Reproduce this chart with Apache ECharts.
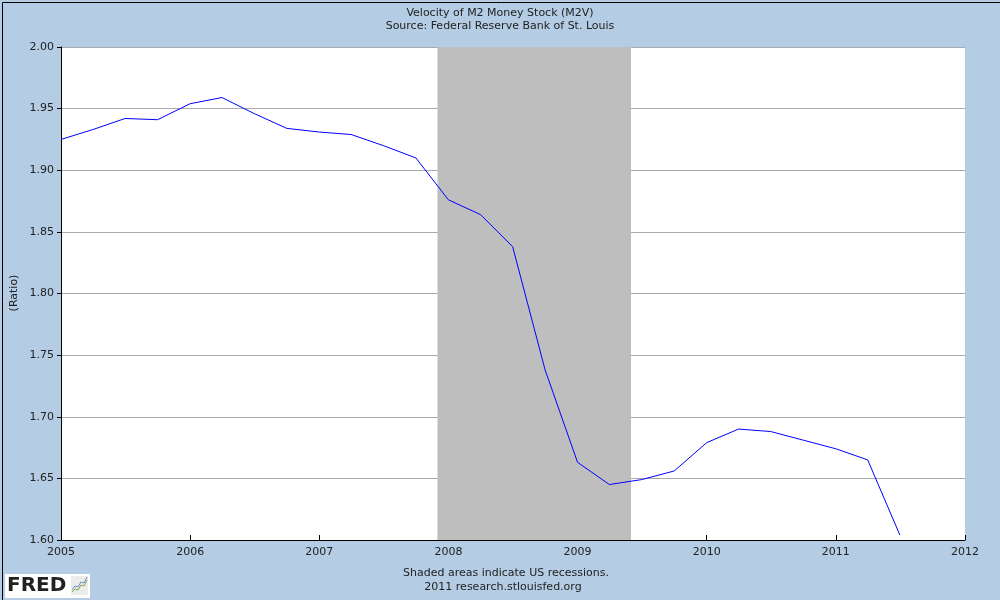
<!DOCTYPE html>
<html>
<head>
<meta charset="utf-8">
<script src="https://cdn.jsdelivr.net/npm/echarts@6/dist/echarts.min.js"></script>
<style>html,body{margin:0;padding:0;background:#B4CDE4;}#c{width:1000px;height:600px;}</style>
</head>
<body>
<div id="c"></div>
<script>
// Quarterly observation dates
const dates = [
  '2005-01-01','2005-04-01','2005-07-01','2005-10-01',
  '2006-01-01','2006-04-01','2006-07-01','2006-10-01',
  '2007-01-01','2007-04-01','2007-07-01','2007-10-01',
  '2008-01-01','2008-04-01','2008-07-01','2008-10-01',
  '2009-01-01','2009-04-01','2009-07-01','2009-10-01',
  '2010-01-01','2010-04-01','2010-07-01','2010-10-01',
  '2011-01-01','2011-04-01','2011-07-01'
];
// M2 velocity (ratio)
const m2v = [
  1.925, 1.933, 1.942, 1.941,
  1.954, 1.959, 1.946, 1.934,
  1.931, 1.929, 1.920, 1.910,
  1.876, 1.864, 1.838, 1.738,
  1.663, 1.645, 1.649, 1.656,
  1.679, 1.690, 1.688, 1.681,
  1.674, 1.665, 1.604
];
// Recession period
const recessionStart = '2007-12-01';
const recessionEnd = '2009-06-01';
// Axis ticks
const yearTicks = [2005, 2006, 2007, 2008, 2009, 2010, 2011, 2012];
const yTicks = [1.60, 1.65, 1.70, 1.75, 1.80, 1.85, 1.90, 1.95, 2.00];

const titleText = 'Velocity of M2 Money Stock (M2V)';
const subText = 'Source: Federal Reserve Bank of St. Louis';
const yName = '(Ratio)';
const footer1 = 'Shaded areas indicate US recessions.';
const footer2 = '2011 research.stlouisfed.org';

function decYear(s) {
  const d = new Date(s + 'T00:00:00Z');
  const y = d.getUTCFullYear();
  const start = Date.UTC(y, 0, 1), end = Date.UTC(y + 1, 0, 1);
  return y + (d.getTime() - start) / (end - start);
}

const FONT = 'DejaVu Sans';
const chart = echarts.init(document.getElementById('c'), null, {renderer: 'canvas'});
chart.setOption({
  backgroundColor: '#B4CDE4',
  animation: false,
  title: [
    {text: titleText, left: 'center', top: 3, textStyle: {fontFamily: FONT, fontSize: 11, fontWeight: 'normal', color: '#222'}},
    {text: subText, left: 'center', top: 16, textStyle: {fontFamily: FONT, fontSize: 11, fontWeight: 'normal', color: '#222'}}
  ],
  grid: {left: 61, top: 47, right: 35, bottom: 60, show: true, backgroundColor: '#fff', borderWidth: 0},
  xAxis: {
    type: 'value',
    min: yearTicks[0], max: yearTicks[yearTicks.length - 1], interval: 1,
    axisLine: {show: true, lineStyle: {color: '#000', width: 1}},
    axisTick: {show: true, inside: true, length: 5, lineStyle: {color: '#000'}},
    axisLabel: {fontFamily: FONT, fontSize: 11, color: '#222', margin: 7, formatter: v => String(v)},
    splitLine: {show: false}
  },
  yAxis: {
    type: 'value',
    min: yTicks[0], max: yTicks[yTicks.length - 1], interval: 0.05,
    axisLine: {show: true, lineStyle: {color: '#000', width: 1}},
    axisTick: {show: true, inside: false, length: 4, lineStyle: {color: '#000'}},
    axisLabel: {fontFamily: FONT, fontSize: 11, color: '#222', margin: 7, formatter: v => v.toFixed(2)},
    splitLine: {show: true, lineStyle: {color: '#AAAAAA', width: 1}}
  },
  series: [{
    type: 'line',
    data: dates.map((d, i) => [decYear(d), m2v[i]]),
    showSymbol: false,
    symbol: 'none',
    lineStyle: {color: '#0000FF', width: 1},
    z: 3,
    markArea: {
      silent: true,
      itemStyle: {color: '#BEBEBE', opacity: 1},
      data: [[{xAxis: decYear(recessionStart)}, {xAxis: decYear(recessionEnd)}]]
    }
  }],
  graphic: [
    {type: 'rect', left: 0, top: 0, shape: {x: 0.5, y: 0.5, width: 999, height: 599}, style: {fill: 'none', stroke: '#000', lineWidth: 1}, silent: true, z: 100},
    {type: 'text', x: 14, y: 293, rotation: Math.PI / 2, style: {text: yName, fontFamily: FONT, fontSize: 11, fill: '#222', align: 'center', verticalAlign: 'middle'}},
    {type: 'text', x: 506, y: 573, style: {text: footer1, fontFamily: FONT, fontSize: 11, fill: '#222', align: 'center', verticalAlign: 'middle'}},
    {type: 'text', x: 503, y: 587, style: {text: footer2, fontFamily: FONT, fontSize: 11, fill: '#222', align: 'center', verticalAlign: 'middle'}},
    {type: 'rect', shape: {x: 5, y: 574, width: 85, height: 24}, style: {fill: '#fff'}},
    {type: 'text', x: 7, y: 586, style: {text: 'FRED', fontFamily: FONT, fontSize: 20, fontWeight: 'bold', fill: '#222', verticalAlign: 'middle'}},
    {type: 'rect', shape: {x: 71, y: 576, width: 17, height: 19}, style: {fill: '#ECECEC'}},
    {type: 'polyline', shape: {points: [[72,592],[75,589],[78,590],[81,585],[84,586],[87,580]]}, style: {stroke: '#7DAA4A', lineWidth: 1, fill: 'none'}},
    {type: 'polyline', shape: {points: [[72,590],[75,586],[78,587],[81,582],[84,583],[87,577]]}, style: {stroke: '#6A8FC8', lineWidth: 1, fill: 'none'}}
  ]
});
</script>
</body>
</html>
